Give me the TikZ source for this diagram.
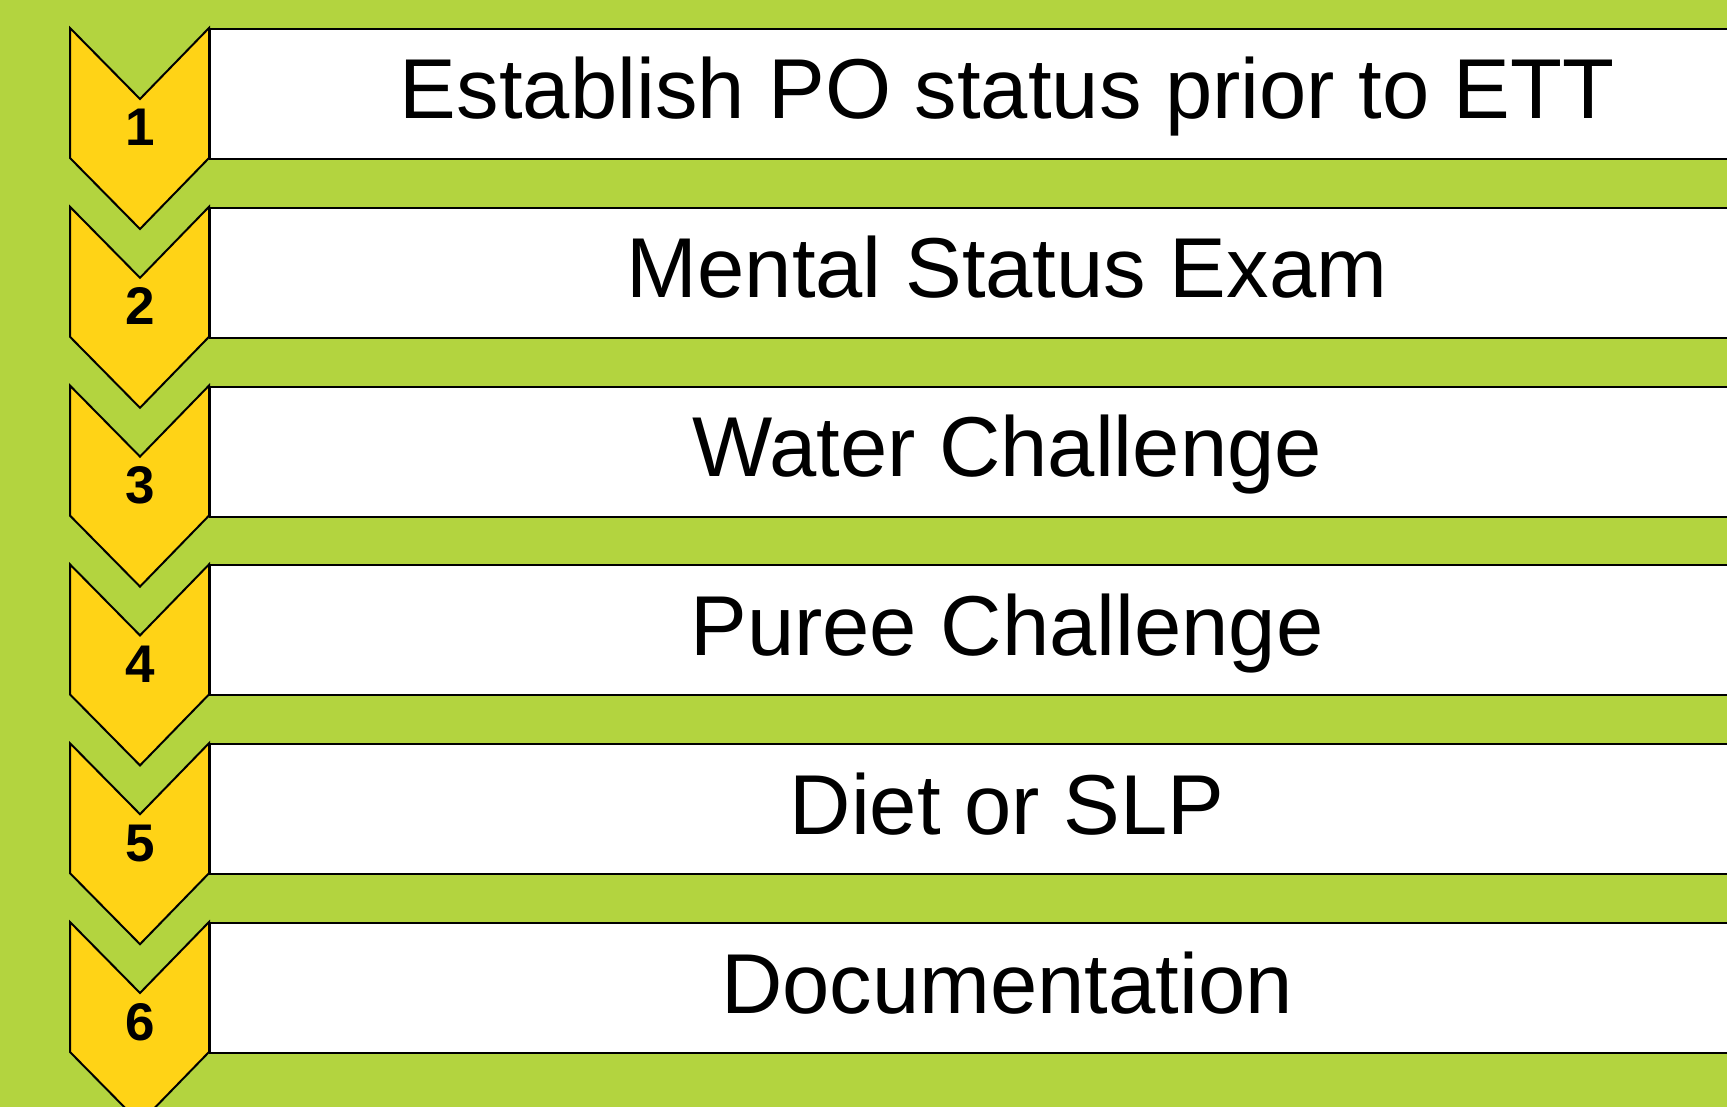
\documentclass[tikz,border=0pt]{standalone}
\usepackage{fontspec}
\setmainfont{Liberation Sans}
\usetikzlibrary{positioning}

\definecolor{leafgreen}{RGB}{179,212,63}
\definecolor{chevyellow}{RGB}{255,211,22}

\begin{document}
\begin{tikzpicture}[
    x=1pt, y=-1pt,
    stepbox/.style={rectangle, draw=black, fill=white, line width=2pt, minimum width=1600pt, minimum height=130pt, inner sep=0pt, anchor=north west},
    chevron/.style={draw=black, fill=chevyellow, line width=2pt, line join=miter},
    num/.style={font=\fontsize{53}{60}\selectfont\bfseries, anchor=base},
    steptext/.style={font=\fontsize{85}{100}\selectfont, anchor=base}
]

% Background
\fill[leafgreen] (0,0) rectangle (1727,1107);
\useasboundingbox (0,0) rectangle (1727,1107);
\clip (0,0) rectangle (1727,1107);

% Steps: chevron with number, white bar with text
\foreach \i/\txt in {1/Establish PO status prior to ETT,
                     2/Mental Status Exam,
                     3/Water Challenge,
                     4/Puree Challenge,
                     5/Diet or SLP,
                     6/Documentation} {
    \pgfmathsetmacro\ytop{28+(\i-1)*178.8}
    \node[stepbox] (box\i) at (209,\ytop) {};
    \draw[chevron] (70,\ytop) -- (140,\ytop+71) -- (209,\ytop) -- (209,\ytop+130)
        -- (140,\ytop+201) -- (70,\ytop+130) -- cycle;
    \node[num] (num\i) at (140,\ytop+118) {\i};
    \node[steptext] (label\i) at (1007,\ytop+91) {\txt};
}

\end{tikzpicture}
\end{document}
